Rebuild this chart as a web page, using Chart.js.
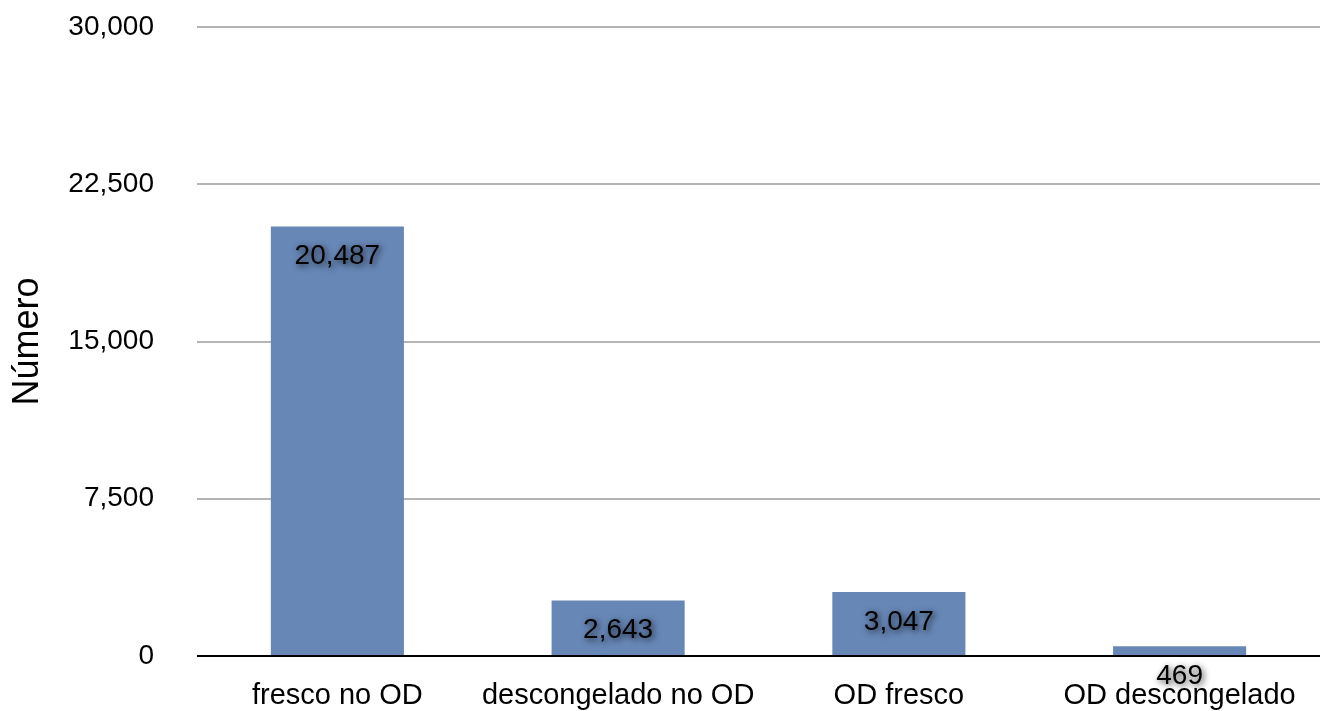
<!DOCTYPE html>
<html>
<head>
<meta charset="utf-8">
<script src="https://cdn.jsdelivr.net/npm/chart.js@4"></script>
<style>
html,body{margin:0;padding:0;background:#fff;}
#wrap{width:1320px;height:711px;position:relative;}
</style>
</head>
<body>
<div id="wrap"><canvas id="c" width="1320" height="711"></canvas></div>
<script>
const categories = ["fresco no OD", "descongelado no OD", "OD fresco", "OD descongelado"];
const values = [20487, 2643, 3047, 469];
const yTicks = [0, 7500, 15000, 22500, 30000];
const yTitle = "Número";

const FONT = "'Liberation Sans', Arial, Helvetica, sans-serif";
const fmt = v => Number(v).toLocaleString('en-US');

const valueLabels = {
  id: 'valueLabels',
  afterDatasetsDraw(chart) {
    const ctx = chart.ctx;
    const meta = chart.getDatasetMeta(0);
    ctx.save();
    ctx.font = "28px " + FONT;
    ctx.textAlign = 'center';
    ctx.textBaseline = 'middle';
    ctx.fillStyle = '#000';
    ctx.shadowColor = 'rgba(0,0,0,0.75)';
    ctx.shadowBlur = 6;
    ctx.shadowOffsetX = 2;
    ctx.shadowOffsetY = 2;
    meta.data.forEach((bar, i) => {
      ctx.fillText(fmt(values[i]), bar.x, bar.y + 30);
    });
    ctx.restore();
  }
};

new Chart(document.getElementById('c'), {
  type: 'bar',
  data: {
    labels: categories,
    datasets: [{
      data: values,
      backgroundColor: 'rgb(103,135,182)',
      borderWidth: 0,
      barPercentage: 0.474,
      categoryPercentage: 1.0
    }]
  },
  options: {
    responsive: false,
    animation: false,
    events: [],
    layout: { padding: { top: 27, right: 0, bottom: 0, left: 0 } },
    plugins: { legend: { display: false }, tooltip: { enabled: false } },
    scales: {
      x: {
        grid: { display: false, drawTicks: false },
        border: { display: false },
        ticks: { color: '#000', font: { family: FONT, size: 29 }, padding: 23, maxRotation: 0, autoSkip: false },
        afterFit(scale) { scale.height = 55; scale.paddingLeft = 0; scale.paddingRight = 0; scale.paddingTop = 0; scale.paddingBottom = 0; }
      },
      y: {
        min: 0, max: 30000,
        afterBuildTicks(scale) { scale.ticks = yTicks.map(v => ({ value: v })); },
        grid: {
          drawTicks: false,
          lineWidth: 2,
          color: c => (c.tick && c.tick.value === 0) ? '#000' : '#b5b5b5'
        },
        border: { display: false },
        ticks: { color: '#000', font: { family: FONT, size: 28 }, padding: 43, callback: v => fmt(v) },
        title: { display: true, text: yTitle, color: '#000', font: { family: FONT, size: 36 }, padding: { top: 6, bottom: 0 } },
        afterFit(scale) { scale.width = 197; scale.paddingTop = 0; scale.paddingBottom = 0; scale.paddingLeft = 0; scale.paddingRight = 0; }
      }
    }
  },
  plugins: [valueLabels]
});
</script>
</body>
</html>
